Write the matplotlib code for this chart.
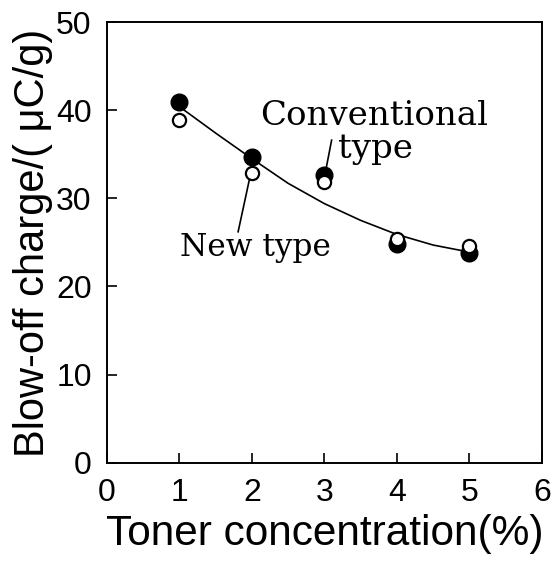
import numpy as np
import matplotlib
matplotlib.use("Agg")
import matplotlib.pyplot as plt

# toner concentration (%)
conc = [1, 2, 3, 4, 5]
# blow-off charge (uC/g)
conventional = [40.9, 34.7, 32.7, 24.8, 23.8]
new_type = [38.9, 32.9, 31.9, 25.4, 24.6]

# trend curve
curve_x = [1, 1.5, 2, 2.5, 3, 3.5, 4, 4.5, 5]
curve_y = [40.4, 37.4, 34.5, 31.7, 29.4, 27.5, 25.9, 24.7, 23.9]

plt.rcParams['font.family'] = ['Liberation Sans', 'DejaVu Sans']

fig = plt.figure(figsize=(5.54, 5.65), dpi=100)
ax = fig.add_axes([0.193, 0.181, 0.785, 0.78])

ax.plot(curve_x, curve_y, color='black', lw=1.2, zorder=1)
ax.plot(conc, conventional, 'o', ms=12, color='black', zorder=2)
ax.plot(conc, new_type, 'o', ms=9.5, mfc='white', mec='black', mew=1.6, zorder=3)

# labels and leader lines
ax.text(2.11, 38.3, 'Conventional', ha='left', va='baseline',
        family='DejaVu Serif', fontsize=24.5)
ax.text(3.19, 34.6, 'type', ha='left', va='baseline',
        family='DejaVu Serif', fontsize=24.5)
ax.plot([3.10, 3.02], [36.6, 33.2], color='black', lw=1.2)
ax.text(1.01, 23.4, 'New type', ha='left', va='baseline',
        family='DejaVu Serif', fontsize=22.5)
ax.plot([1.81, 1.97], [26.2, 32.3], color='black', lw=1.2)

ax.set_xlim(0, 6)
ax.set_ylim(0, 50)
ax.set_xticks(range(0, 7))
ax.set_yticks(range(0, 51, 10))
ax.tick_params(direction='in', length=7, width=1.2, labelsize=23, pad=11,
               top=False, right=False)
for s in ax.spines.values():
    s.set_linewidth(1.4)

ax.set_xlabel('Toner concentration(%)', fontsize=30.5, labelpad=4)
ax.set_ylabel('Blow-off charge/( \u03bcC/g)', fontsize=30, labelpad=2)

fig.savefig('out.png', dpi=100)
